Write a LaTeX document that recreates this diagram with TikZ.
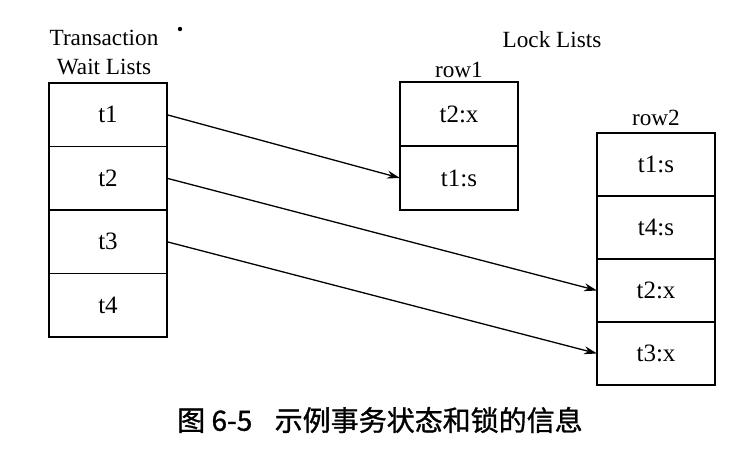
\documentclass[tikz,border=0pt]{standalone}
\usepackage{fontspec}
\setmainfont{Liberation Serif}
\newfontfamily\cjkfont[FakeBold=1]{Noto Sans CJK SC}
\usepackage{tikz}
\usetikzlibrary{positioning,arrows.meta}

\begin{document}
\begin{tikzpicture}[
  x=0.5pt,y=-0.5pt,
  node distance=0pt,
  cell/.style={draw,line width=0.9pt,outer sep=0pt,inner sep=0pt,minimum width=59pt,minimum height=31.75pt,font=\fontsize{12.5}{14}\selectfont},
  rcell/.style={cell,minimum height=31.5pt},
  head/.style={font=\fontsize{11.6}{14.5}\selectfont,align=center,inner sep=0pt},
  link/.style={line width=0.65pt,-{Stealth[length=6.5pt,width=4pt]}}
]
\useasboundingbox (0,0) rectangle (743,452);
% headings
\node[head] (wait) at (104,52) {Transaction\\Wait Lists};
\node[head] (locks) at (552,40) {Lock Lists};
\fill (180,29) circle (1.1pt);
% transaction wait list
\node[cell] (t1) at (108,114.75) {t1};
\node[cell,below=of t1] (t2) {t2};
\node[cell,below=of t2] (t3) {t3};
\node[cell,below=of t3] (t4) {t4};
% lock list of row1
\node[head] (row1) at (459,70) {row1};
\node[cell,minimum height=32pt] (r1a) at (459,114) {t2:x};
\node[cell,minimum height=32pt,below=of r1a] (r1b) {t1:s};
% lock list of row2
\node[head] (row2) at (656,118) {row2};
\node[rcell] (r2a) at (656,164.5) {t1:s};
\node[rcell,below=of r2a] (r2b) {t4:s};
\node[rcell,below=of r2b] (r2c) {t2:x};
\node[rcell,below=of r2c] (r2d) {t3:x};
% waits
\draw[link] (t1.east) -- (r1b.west);
\draw[link] (t2.east) -- (r2c.west);
\draw[link] (t3.east) -- (r2d.west);
% caption
\node[font=\cjkfont\fontsize{14}{16}\selectfont,inner sep=0pt] (cap) at (380,420) {图 6-5\hspace{0.8em}示例事务状态和锁的信息};
\end{tikzpicture}
\end{document}
